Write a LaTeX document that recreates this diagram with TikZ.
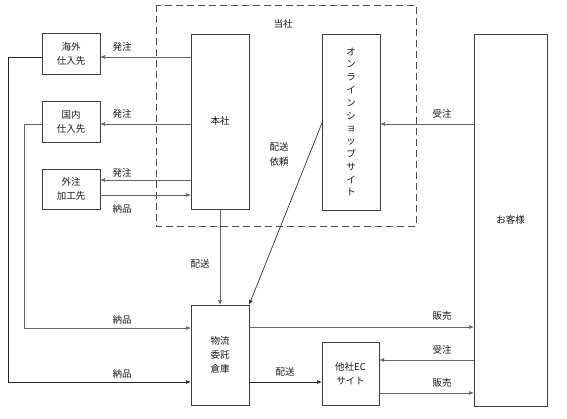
\documentclass[tikz,border=0pt]{standalone}
\usepackage{fontspec}
\setmainfont{Noto Sans CJK JP}
\usetikzlibrary{arrows.meta}
\begin{document}
\begin{tikzpicture}[x=1pt,y=-1pt,
  box/.style={draw=black!75,line width=0.8pt,fill=white,inner sep=0pt},
  conn/.style={draw=black!60,line width=0.7pt},
  arr/.style={conn,-{Latex[length=5pt,width=4pt]}},
  lbl/.style={font=\fontsize{9.5}{12}\selectfont,inner sep=0pt,text=black!90},
  btxt/.style={font=\fontsize{9.5}{14}\selectfont,align=center,text=black!90}]
\useasboundingbox (0,0) rectangle (567,418);
% dashed company boundary
\draw[black!70,line width=1pt,dash pattern=on 7pt off 4pt] (156,5) rectangle (416,226);
\node[lbl] (tosha) at (283,24) {当社};
% boxes
\draw[box] (191,34) rectangle (249,209); \coordinate (hq) at (220,121.5);
\node[btxt] (hqt) at (220,121) {本社};
\draw[box] (322,34) rectangle (380,210);
\node[btxt,font=\fontsize{9.5}{12.8}\selectfont] (shop) at (351,122) {オ\\ン\\ラ\\イ\\ン\\シ\\ョ\\ッ\\プ\\サ\\イ\\ト};
\draw[box] (474,34) rectangle (547,406);
\node[btxt] (cust) at (510.5,220) {お客様};
\draw[box] (42,33) rectangle (100,74);
\node[btxt] (kaigai) at (71,53.5) {海外\\仕入先};
\draw[box] (42,101) rectangle (100,142);
\node[btxt] (kokunai) at (71,121.5) {国内\\仕入先};
\draw[box] (42,169) rectangle (100,209);
\node[btxt] (gaichu) at (71,189) {外注\\加工先};
\draw[box] (191,305) rectangle (249,405);
\node[btxt] (wh) at (220,355) {物流\\委託\\倉庫};
\draw[box] (322,342) rectangle (379,405);
\node[btxt] (ec) at (350.5,373.5) {他社EC\\サイト};
% 本社 -> suppliers
\draw[arr] (191,57) -- (100,57);
\node[lbl] (l1) at (122,47) {発注};
\draw[arr] (191,124) -- (100,124);
\node[lbl] (l2) at (122,114) {発注};
\draw[arr] (191,180) -- (100,180);
\node[lbl] (l3) at (122,173) {発注};
\draw[arr] (100,195) -- (191,195);
\node[lbl] (l4) at (122,209) {納品};
% customer -> online shop
\draw[arr] (474,124) -- (380,124);
\node[lbl] (l5) at (442,114) {受注};
% online shop -> warehouse
\draw[arr,black!80] (322,123) -- (249,305);
\node[lbl,align=center,font=\fontsize{9.5}{15}\selectfont] (l6) at (279,154) {配送\\依頼};
% 本社 -> warehouse
\draw[arr] (220,209) -- (220,305);
\node[lbl] (l7) at (200,264) {配送};
% suppliers -> warehouse
\draw[arr,black!85] (42,57) -- (8,57) -- (8,382) -- (191,382);
\node[lbl] (l8) at (122,374) {納品};
\draw[arr] (42,124) -- (24,124) -- (24,328) -- (191,328);
\node[lbl] (l9) at (122,320) {納品};
% warehouse -> customer
\draw[arr] (249,327) -- (474,327);
\node[lbl] (l10) at (442,316) {販売};
% warehouse -> EC
\draw[arr,black!85] (249,382) -- (322,382);
\node[lbl] (l11) at (285,372) {配送};
% customer <-> EC
\draw[arr] (474,360) -- (379,360);
\node[lbl] (l12) at (442,350) {受注};
\draw[arr] (379,393) -- (474,393);
\node[lbl] (l13) at (442,383) {販売};
\end{tikzpicture}
\end{document}
